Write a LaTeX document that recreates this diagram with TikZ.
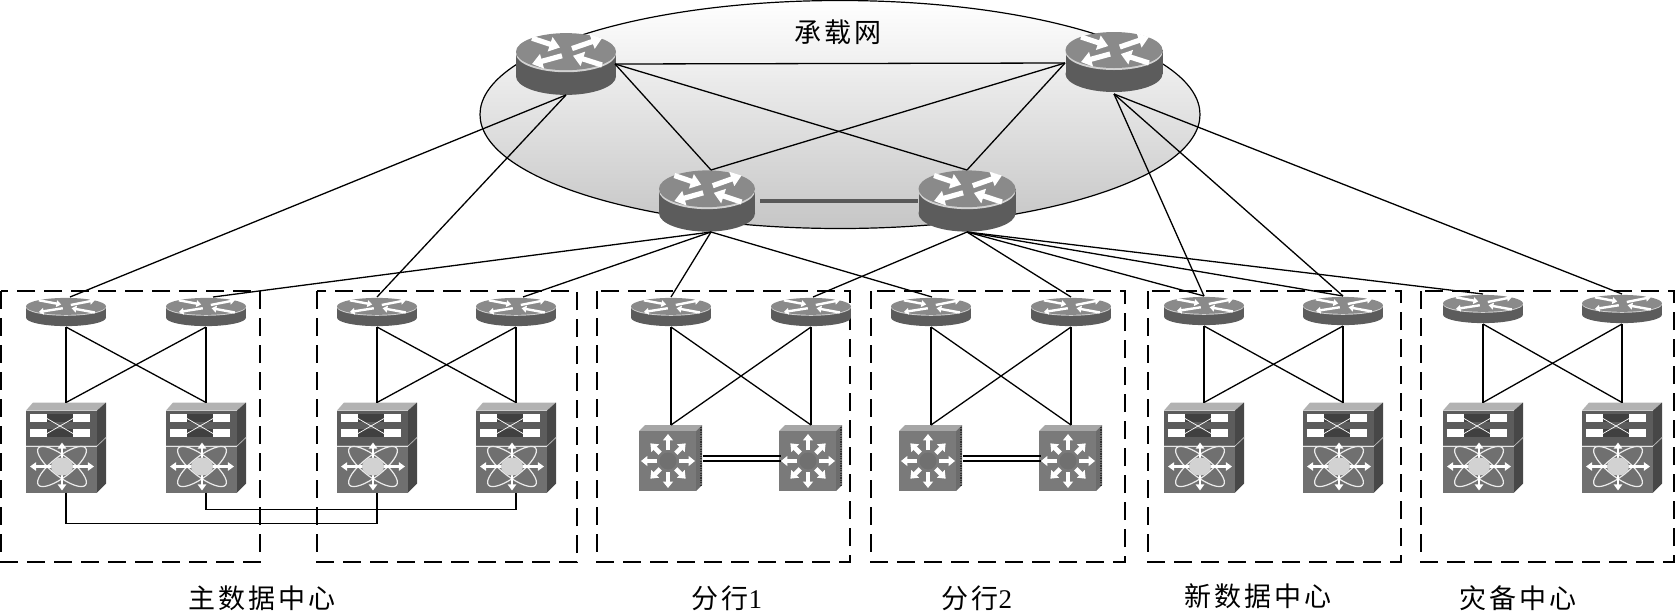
\documentclass[tikz,border=0pt]{standalone}
\usepackage{fontspec}
\usetikzlibrary{arrows.meta}
\setmainfont{Liberation Serif}
\newfontfamily\cjkf[LetterSpace=11]{Noto Sans CJK SC}
\definecolor{bodyg}{gray}{0.36}
\definecolor{faceg}{gray}{0.54}
\definecolor{frontg}{gray}{0.44}
\definecolor{darkg}{gray}{0.28}
\tikzset{
  devbox/.style={inner sep=0pt,outer sep=0pt,draw=none},
  bigr/.style={devbox,minimum width=49pt,minimum height=31pt},
  smallr/.style={devbox,minimum width=40pt,minimum height=15pt},
  nexus/.style={devbox,minimum width=40pt,minimum height=45pt},
  catal/.style={devbox,minimum width=32pt,minimum height=33pt},
  link/.style={draw=black,line width=0.65pt},
  grp/.style={draw=black,line width=0.7pt,dash pattern=on 9pt off 4.5pt},
  lab/.style={inner sep=0pt,font=\fontsize{13.5pt}{15pt}\selectfont},
  wa/.style={white,-{Triangle[length=0pt 2,width=0pt 2.8]}},
  wc/.style={white,-{Triangle[length=0pt 1.5,width=0pt 2.3]}},
  wb/.style={white,{Triangle[length=0pt 2.2,width=0pt 3]}-{Triangle[length=0pt 2.2,width=0pt 3]}}
}
% x y xscale yscale linewidth
\newcommand{\routerart}[5]{%
  \begin{scope}[shift={(#1,#2)},xscale=#3,yscale=#4]
    \fill[bodyg] (-50,-12) rectangle (50,12);
    \fill[bodyg] (0,12) circle[x radius=50,y radius=18];
    \fill[gray!35] (0,-10) circle[x radius=50,y radius=18];
    \fill[faceg] (0,-12) circle[x radius=50,y radius=18];
    \draw[wa,line width=#5] (-34,-25) -- (-6,-16);
    \draw[wa,line width=#5] (6,-15) -- (36,-25);
    \draw[wa,line width=#5] (-4,-8) -- (-34,0);
    \draw[wa,line width=#5] (36,1) -- (7,-8);
  \end{scope}}
\newcommand{\nexusart}[2]{%
  \begin{scope}[shift={(#1,#2)}]
    \fill[gray!60] (-40,-37) -- (-33,-45) -- (40,-45) -- (31,-37) -- cycle;
    \fill[darkg] (31,-37) -- (40,-45) -- (40,36) -- (31,45) -- cycle;
    \fill[bodyg] (-40,-37) rectangle (31,-2);
    \fill[frontg] (-40,-1) rectangle (31,45);
    \draw[gray!60,line width=0.4pt] (-40,-1.5) -- (31,-1.5) -- (40,-10);
    \foreach \yy in {-33.5,-18.5}{
      \fill[white] (-36,\yy) rectangle (-19,\yy+8);
      \fill[white] (7,\yy) rectangle (24,\yy+8);
      \fill[black!75] (-19,\yy) rectangle (7,\yy+8);}
    \draw[white,line width=0.35pt] (-19,-29) -- (7,-14) (-19,-14) -- (7,-29);
    \begin{scope}[shift={(-4,19)}]
      \draw[gray!15,line width=0.6pt,rotate=38] (0,0) circle[x radius=30,y radius=10];
      \draw[gray!15,line width=0.6pt,rotate=-38] (0,0) circle[x radius=30,y radius=10];
      \draw[wb,line width=1.4pt] (-32,0) -- (32,0);
      \draw[wb,line width=1.4pt] (0,-24) -- (0,24);
      \fill[gray!35!white] (0,0) circle[x radius=11,y radius=9];
    \end{scope}
  \end{scope}}
\newcommand{\catalart}[2]{%
  \begin{scope}[shift={(#1,#2)}]
    \fill[gray!70] (-32,-27) -- (-26,-33) -- (31,-33) -- (25,-27) -- cycle;
    \fill[gray!85!black] (25,-27) -- (31,-33) -- (31,27) -- (25,33) -- cycle;
    \draw[black!80,line width=1.2pt,dash pattern=on 0.6pt off 0.6pt] (30,-31) -- (30,28);
    \fill[black!52] (-32,-27) rectangle (25,33);
    \begin{scope}[shift={(-3,3)}]
      \foreach \aa in {45,135,225,315}{
        \draw[wc,line width=2.3pt] (\aa:11) -- (\aa:25);}
      \foreach \aa in {0,90,180,270}{
        \draw[wc,line width=2.1pt] (\aa:11) -- (\aa:27);}
      \fill[frontg] (0,0) circle[radius=8.5];
    \end{scope}
  \end{scope}}
\begin{document}
\begin{tikzpicture}[x=0.5pt,y=-0.5pt]
\useasboundingbox (0,0) rectangle (1675,612);
% network cloud
\shade[top color=white,middle color=gray!18,bottom color=gray!45] (840,114.5) circle[x radius=360,y radius=114];
\draw[black,line width=0.6pt] (840,114.5) circle[x radius=360,y radius=114];
\node[devbox] (cloud) at (840,114.5) {};
% groups
\draw[grp] (1,291) rectangle (260,562);
\draw[grp] (317,291) rectangle (577,562);
\draw[grp] (597,291) rectangle (850,562);
\draw[grp] (871,291) rectangle (1125,562);
\draw[grp] (1148,291) rectangle (1401,562);
\draw[grp] (1421,291) rectangle (1674,562);
% top routers
\routerart{566}{64}{1}{1.03}{2.6pt}
\routerart{1114}{62}{0.97}{1}{2.6pt}
\routerart{707}{201}{0.96}{1.02}{2.6pt}
\routerart{967}{201}{0.97}{1.02}{2.6pt}
\node[bigr] (R1) at (566,64) {};
\node[bigr] (R2) at (1114,63) {};
\node[bigr] (R3) at (707,201) {};
\node[bigr] (R4) at (967,201) {};
% small routers
\foreach \nm/\xx/\yy in {Aa/66/312,Ab/206/312,Ba/377/312,Bb/516/312,Ca/671/312,Cb/811/312,Da/931/312,Db/1071/312,Ea/1204/311,Eb/1343/311,Fa/1483/309,Fb/1622/309}{
  \routerart{\xx}{\yy}{0.8}{0.47}{1.2pt}
  \node[smallr] (\nm) at (\xx,\yy) {};
}
% nexus
\foreach \nm/\xx in {Na/66,Nb/206,Nc/377,Nd/516,Ne/1204,Nf/1343,Ng/1483,Nh/1622}{
  \nexusart{\xx}{447.5}
  \node[nexus] (\nm) at (\xx,447.5) {};
}
% catalyst
\foreach \nm/\xx in {Sa/671,Sb/811,Sc/931,Sd/1071}{
  \catalart{\xx}{458}
  \node[catal] (\nm) at (\xx,458) {};
}
% backbone
\draw[link] (R1.east) -- (R2.west);
\draw[link] (R1.east) -- ([xshift=2pt]R3.north);
\draw[link] (R1.east) -- (R4.north);
\draw[link] (R2.west) -- ([xshift=2pt]R3.north);
\draw[link] (R2.west) -- (R4.north);
\draw[black!65,line width=1.7pt] ([xshift=2pt]R3.east) -- (R4.west);
% uplinks
\draw[link] (R1.south) -- ([xshift=2pt]Aa.north);
\draw[link] (R1.south) -- (Ba.north);
\draw[link] ([xshift=2pt]R3.south) -- ([xshift=3.5pt]Ab.north);
\draw[link] ([xshift=2pt]R3.south) -- ([xshift=3.5pt]Bb.north);
\draw[link] ([xshift=2pt]R3.south) -- (Ca.north);
\draw[link] ([xshift=2pt]R3.south) -- ([xshift=0.5pt]Da.north);
\draw[link] (R4.south) -- ([xshift=1pt]Cb.north);
\draw[link] (R4.south) -- (Db.north);
\draw[link] (R4.south) -- (Ea.north);
\draw[link] (R4.south) -- (Eb.north);
\draw[link] (R4.south) -- (Fa.north);
\draw[link] (R2.south) -- (Ea.north);
\draw[link] (R2.south) -- (Eb.north);
\draw[link] (R2.south) -- (Fb.north);
% router to switch
\foreach \ra/\rb/\sa/\sb in {Aa/Ab/Na/Nb,Ba/Bb/Nc/Nd,Ca/Cb/Sa/Sb,Da/Db/Sc/Sd,Ea/Eb/Ne/Nf,Fa/Fb/Ng/Nh}{
  \draw[link] (\ra.south) -- (\sa.north);
  \draw[link] (\ra.south) -- (\sb.north);
  \draw[link] (\rb.south) -- (\sa.north);
  \draw[link] (\rb.south) -- (\sb.north);
}
% double links
\draw[link] ([yshift=-1.5pt]Sa.east) -- ([yshift=-1.5pt,xshift=1pt]Sb.west);
\draw[link] ([yshift=1pt]Sa.east) -- ([yshift=1pt,xshift=1pt]Sb.west);
\draw[link] ([yshift=-1.5pt]Sc.east) -- ([yshift=-1.5pt,xshift=1pt]Sd.west);
\draw[link] ([yshift=1pt]Sc.east) -- ([yshift=1pt,xshift=1pt]Sd.west);
% cross links
\draw[link] (Na.south) -- ++(0,31) -| (Nc.south);
\draw[link] (Nb.south) -- ++(0,17) -| (Nd.south);
% labels
\node[lab] (t0) at (838,32) {\cjkf 承载网};
\node[lab] (t1) at (262,598) {\cjkf 主数据中心};
\node[lab] (t2) at (727,598) {\cjkf 分行\rmfamily 1};
\node[lab] (t3) at (977,598) {\cjkf 分行\rmfamily 2};
\node[lab] (t4) at (1258,596) {\cjkf 新数据中心};
\node[lab] (t5) at (1518,598) {\cjkf 灾备中心};
\end{tikzpicture}
\end{document}
